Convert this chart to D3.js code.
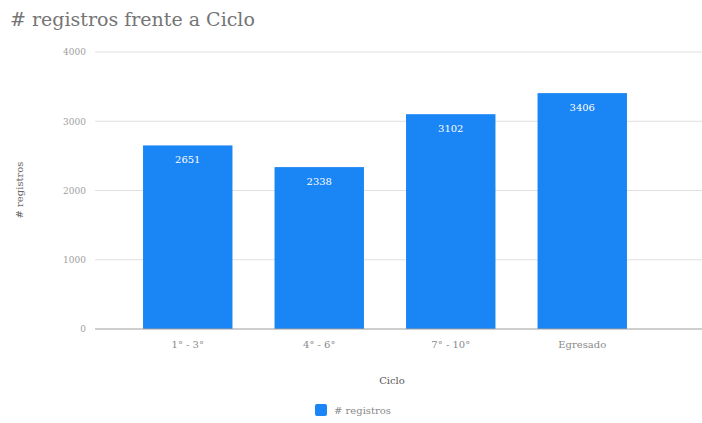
<!DOCTYPE html>
<html>
<head>
<meta charset="utf-8">
<script src="https://cdn.jsdelivr.net/npm/d3@7"></script>
<style>
  html, body { margin: 0; padding: 0; background: #fff; }
  svg { display: block; font-family: "DejaVu Serif", "Liberation Serif", serif; }
</style>
</head>
<body>
<svg id="chart" width="702" height="423"></svg>
<script>
// Registrations per study cycle
const categories = ["1° - 3°", "4° - 6°", "7° - 10°", "Egresado"];
const registros = [2651, 2338, 3102, 3406];
const yTicks = [0, 1000, 2000, 3000, 4000];

const svg = d3.select("#chart");
const barColor = "#1a85f5";

const x = d3.scaleBand()
  .domain(categories)
  .range([122, 648])
  .paddingInner(0.32)
  .paddingOuter(0.16);

const y = d3.scaleLinear()
  .domain([0, 4000])
  .range([329, 52]);

// Title
svg.append("text")
  .attr("x", 10).attr("y", 26)
  .attr("font-size", 19)
  .attr("fill", "#757575")
  .text("# registros frente a Ciclo");

// Horizontal gridlines
const gridLeft = 95, gridRight = 702;
svg.append("g").selectAll("line")
  .data(yTicks.filter(d => d !== 0))
  .join("line")
  .attr("x1", gridLeft).attr("x2", gridRight)
  .attr("y1", d => y(d)).attr("y2", d => y(d))
  .attr("stroke", "#e0e0e0").attr("stroke-width", 1);

// Y-axis tick labels
const yAxis = d3.axisLeft(y).tickValues(yTicks).tickSize(0).tickPadding(0).tickFormat(d3.format("d"));
const yg = svg.append("g").attr("transform", `translate(86,0)`).call(yAxis);
yg.select(".domain").remove();
yg.selectAll("text")
  .attr("font-family", "DejaVu Serif, serif")
  .attr("font-size", 9)
  .attr("fill", "#9e9e9e");

// Bars
svg.append("g").selectAll("rect")
  .data(registros)
  .join("rect")
  .attr("x", (d, i) => x(categories[i]))
  .attr("width", x.bandwidth())
  .attr("y", d => y(d))
  .attr("height", d => y(0) - y(d))
  .attr("fill", barColor);

// Value labels inside bars
svg.append("g").selectAll("text")
  .data(registros)
  .join("text")
  .attr("x", (d, i) => x(categories[i]) + x.bandwidth() / 2)
  .attr("y", d => y(d) + 18)
  .attr("text-anchor", "middle")
  .attr("font-size", 10)
  .attr("fill", "#ffffff")
  .text(d => d);

// Baseline
svg.append("line")
  .attr("x1", gridLeft).attr("x2", gridRight)
  .attr("y1", y(0)).attr("y2", y(0))
  .attr("stroke", "#9e9e9e").attr("stroke-width", 1.2);

// X-axis tick labels
const xAxis = d3.axisBottom(x).tickSize(0).tickPadding(0);
const xg = svg.append("g").attr("transform", `translate(0,${y(0) + 19})`).call(xAxis);
xg.select(".domain").remove();
xg.selectAll("text")
  .attr("font-family", "DejaVu Serif, serif")
  .attr("font-size", 10)
  .attr("fill", "#8a8a8a")
  .attr("dy", 0);

// Axis titles
svg.append("text")
  .attr("x", 392).attr("y", 384)
  .attr("text-anchor", "middle")
  .attr("font-size", 10)
  .attr("fill", "#555")
  .text("Ciclo");

svg.append("text")
  .attr("transform", "translate(23,190) rotate(-90)")
  .attr("text-anchor", "middle")
  .attr("font-size", 10)
  .attr("fill", "#666")
  .text("# registros");

// Legend
const legend = svg.append("g").attr("transform", "translate(315,404)");
legend.append("rect")
  .attr("width", 12).attr("height", 12).attr("rx", 2)
  .attr("fill", barColor);
legend.append("text")
  .attr("x", 19).attr("y", 10)
  .attr("font-size", 10)
  .attr("fill", "#8a8a8a")
  .text("# registros");
</script>
</body>
</html>
